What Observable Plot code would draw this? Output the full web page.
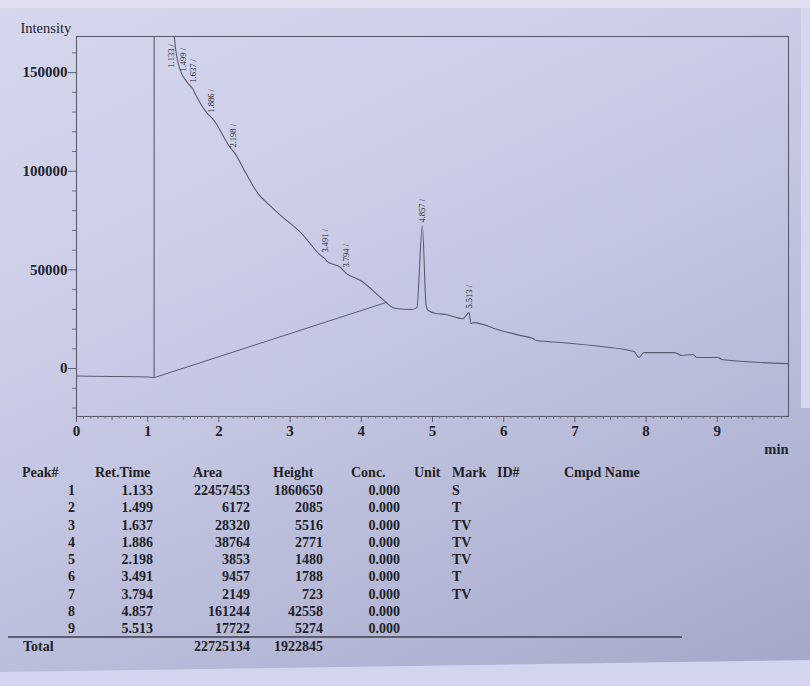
<!DOCTYPE html>
<html>
<head>
<meta charset="utf-8">
<script src="https://cdn.jsdelivr.net/npm/d3@7"></script>
<script src="https://cdn.jsdelivr.net/npm/@observablehq/plot@0.6"></script>
<style>
  html, body { margin: 0; padding: 0; }
  body { width: 810px; height: 686px; overflow: hidden; }
  #page {
    position: relative; width: 810px; height: 686px; overflow: hidden;
    background: linear-gradient(155deg, #d5d7ee 0%, #cbcde7 35%, #babdda 65%, #a3a7c7 100%);
    font-family: "Liberation Serif", "DejaVu Serif", serif; color: #20202a;
  }
  #topstrip { position: absolute; left: 0; top: 0; width: 810px; height: 8px; background: #dfe1f1; }
  #rightstrip { position: absolute; left: 801px; top: 8px; width: 9px; height: 400px; background: #d6d9ee; }
  #bottomstrip { position: absolute; left: 0; top: 0; width: 810px; height: 686px; background: #d2d5ed;
    clip-path: polygon(0px 672px, 810px 660px, 810px 686px, 0px 686px); }
  #chart { position: absolute; left: 0; top: 0; }
  .cell { position: absolute; font-size: 14px; font-weight: bold; line-height: 16px; white-space: nowrap; color: #1f1f28; }
  #rule { position: absolute; left: 8px; top: 636px; width: 674px; height: 1.5px; background: #5c5e70; }
</style>
</head>
<body>
<div id="page">
  <div id="topstrip"></div>
  <div id="rightstrip"></div>
  <div id="bottomstrip"></div>
  <div id="chart"></div>
  <div id="rule"></div>
</div>
<script>
// ---- chromatogram signal (min, intensity) ----
const times = [0, 0.5, 1.0, 1.09, 1.10, 1.34, 1.38, 1.45, 1.49, 1.52, 1.58, 1.63, 1.67, 1.84, 1.88, 1.91, 2.17, 2.21, 2.38, 2.55, 2.71, 2.87, 3.15, 3.43, 3.49, 3.52, 3.71, 3.79, 3.99, 4.27, 4.35, 4.42, 4.49, 4.70, 4.78, 4.857, 4.91, 4.94, 5.05, 5.19, 5.43, 5.47, 5.513, 5.54, 5.57, 5.96, 6.24, 6.41, 6.46, 6.81, 7.37, 7.83, 7.90, 7.97, 8.40, 8.50, 8.66, 8.71, 9.02, 9.06, 10.0];
const intensity = [-3800, -4000, -4300, -4500, 1860650, 190000, 166000, 152000, 148500, 146800, 144000, 141900, 139000, 129200, 127800, 126700, 111500, 109800, 99000, 88700, 82800, 77500, 68900, 57300, 55600, 54300, 51200, 48200, 44600, 36000, 33500, 31400, 30400, 29900, 30900, 72400, 31900, 29400, 27900, 27400, 25300, 26800, 28400, 22800, 23300, 19300, 16700, 15200, 14200, 13200, 11200, 8600, 5600, 8100, 8100, 6600, 7100, 5600, 5600, 4600, 2500];

// integration baseline drawn under the main peak cluster
const baseTimes = [1.10, 4.35];
const baseIntensity = [-4500, 33500];

// ---- peak table ----
const peakNo = [1, 2, 3, 4, 5, 6, 7, 8, 9];
const retTime = [1.133, 1.499, 1.637, 1.886, 2.198, 3.491, 3.794, 4.857, 5.513];
const area = [22457453, 6172, 28320, 38764, 3853, 9457, 2149, 161244, 17722];
const peakHeight = [1860650, 2085, 5516, 2771, 1480, 1788, 723, 42558, 5274];
const conc = [0, 0, 0, 0, 0, 0, 0, 0, 0];
const markCode = ["S", "T", "TV", "TV", "TV", "T", "TV", "", ""];
const totalArea = 22725134;
const totalHeight = 1922845;

// intensity at which each retention-time label starts
const labelIntensity = [152000, 150000, 144400, 129200, 111500, 58300, 50700, 73500, 29900];

// ---- axis ticks ----
const yMajor = [0, 50000, 100000, 150000];
const yMinor = d3.range(-20000, 160001, 10000).filter(v => !yMajor.includes(v));
const xMajor = [0, 1, 2, 3, 4, 5, 6, 7, 8, 9];
const xHalf = d3.range(0.5, 10, 1);
const xMinor = d3.range(1, 100).map(i => i / 10).filter(v => Math.abs(v * 2 - Math.round(v * 2)) > 1e-6);

const signal = times.map((t, i) => ({t, v: intensity[i]}));
const baseline = baseTimes.map((t, i) => ({t, v: baseIntensity[i]}));
const labels = retTime.map((t, i) => ({t, v: labelIntensity[i], s: t.toFixed(3) + " /", i}));

const ink = "#22222c";
const lineCol = "#585b6e";

const chart = Plot.plot({
  width: 810,
  height: 460,
  marginLeft: 76,
  marginRight: 22,
  marginTop: 36,
  marginBottom: 44,
  style: {background: "transparent", fontFamily: "Liberation Serif, serif", color: ink, overflow: "visible"},
  x: {domain: [0, 10]},
  y: {domain: [-24300, 168300]},
  marks: [
    Plot.frame({stroke: "#5a5c6e", strokeWidth: 1.1}),
    Plot.axisY({ticks: yMinor, tickSize: 4, tickFormat: () => "", stroke: "#6a6c7e", label: null}),
    Plot.axisY({ticks: yMajor, tickSize: 8, tickPadding: 1, tickFormat: d => String(d), fontSize: 15, fontWeight: "bold", stroke: "#5a5c6e", fill: ink, label: null}),
    Plot.axisX({ticks: xMinor, tickSize: 2.5, tickFormat: () => "", stroke: "#6a6c7e", label: null}),
    Plot.axisX({ticks: xHalf, tickSize: 4, tickFormat: () => "", stroke: "#6a6c7e", label: null}),
    Plot.axisX({ticks: xMajor, tickSize: 6, tickPadding: 3, tickFormat: d => String(d), fontSize: 15, fontWeight: "bold", stroke: "#5a5c6e", fill: ink, label: null}),
    Plot.line(baseline, {x: "t", y: "v", stroke: lineCol, strokeWidth: 1}),
    Plot.line(signal, {x: "t", y: "v", stroke: lineCol, strokeWidth: 1.1, curve: "monotone-x", clip: true}),
    Plot.text(labels.filter(d => d.i > 0), {x: "t", y: "v", text: "s", rotate: -90, textAnchor: "start", fontSize: 8.5, dy: -1, fill: ink}),
    Plot.text(labels.filter(d => d.i === 0), {x: "t", y: "v", text: "s", rotate: -90, textAnchor: "start", fontSize: 8.5, dx: 14, dy: -1, fill: ink}),
    Plot.text(["Intensity"], {text: d => d, frameAnchor: "top-left", dx: -56, dy: -14, textAnchor: "start", fontSize: 14.5, fill: ink}),
    Plot.text(["min"], {text: d => d, frameAnchor: "bottom-right", dy: 37, textAnchor: "end", fontSize: 14.5, fontWeight: "bold", fill: ink})
  ]
});
document.getElementById("chart").appendChild(chart);

// ---- table as positioned text ----
const page = document.getElementById("page");
function cell(text, x, yc, align) {
  const el = document.createElement("div");
  el.className = "cell";
  el.textContent = text;
  el.style.top = (yc - 8) + "px";
  if (align === "right") { el.style.right = (810 - x) + "px"; el.style.textAlign = "right"; }
  else { el.style.left = x + "px"; }
  page.appendChild(el);
}
const headers = [["Peak#", 22], ["Ret.Time", 95], ["Area", 193], ["Height", 273], ["Conc.", 351], ["Unit", 414], ["Mark", 452], ["ID#", 497], ["Cmpd Name", 564]];
headers.forEach(([h, x]) => cell(h, x, 473, "left"));
peakNo.forEach((p, i) => {
  const yc = 491 + i * 17.25;
  cell(String(p), 75, yc, "right");
  cell(retTime[i].toFixed(3), 153, yc, "right");
  cell(String(area[i]), 250, yc, "right");
  cell(String(peakHeight[i]), 323, yc, "right");
  cell(conc[i].toFixed(3), 400, yc, "right");
  if (markCode[i]) cell(markCode[i], 452, yc, "left");
});
cell("Total", 23, 647, "left");
cell(String(totalArea), 250, 647, "right");
cell(String(totalHeight), 323, 647, "right");
</script>
</body>
</html>
